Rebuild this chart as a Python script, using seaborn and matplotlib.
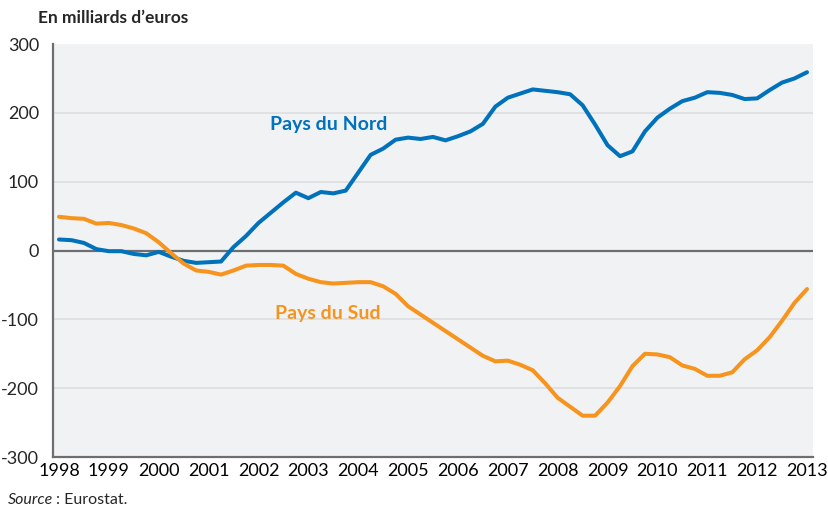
import numpy as np
import pandas as pd
import matplotlib
matplotlib.use("Agg")
from matplotlib import pyplot as plt
import seaborn as sns

# trimestres de 1998T1 à 2013T1
annees = list(range(1998, 2014))
nord = [16, 15, 11, 2, -1, -1, -5, -7, -2, -9, -15, -18, -17, -16, 5, 21,
        40, 55, 70, 84, 76, 85, 83, 87, 113, 139, 148, 161, 164, 162, 165, 160,
        166, 173, 184, 209, 222, 228, 234, 232, 230, 227, 211, 183, 153, 137, 144, 173,
        193, 206, 217, 222, 230, 229, 226, 220, 221, 233, 244, 250, 259]
sud = [49, 47, 46, 39, 40, 37, 32, 25, 12, -4, -19, -29, -31, -35, -29, -22,
       -21, -21, -22, -34, -41, -46, -48, -47, -46, -46, -52, -63, -81, -93, -105, -117,
       -129, -141, -153, -161, -160, -166, -174, -193, -214, -227, -240, -240, -221, -197, -168, -150,
       -151, -155, -167, -172, -182, -182, -177, -158, -145, -126, -102, -76, -56]

df = pd.DataFrame({
    "date": 1998 + np.arange(len(nord)) / 4,
    "Pays du Nord": nord,
    "Pays du Sud": sud,
}).melt(id_vars="date", var_name="zone", value_name="solde")

sns.set_style("white", {"axes.facecolor": "#F1F2F4"})
plt.rcParams["font.family"] = ["Lato", "DejaVu Sans"]

gris = "#6D6E71"
couleurs = {"Pays du Nord": "#0072BB", "Pays du Sud": "#F7941D"}

fig = plt.figure(figsize=(8.29, 5.11), dpi=100)
ax = fig.add_axes([53 / 829, 1 - 457 / 511, 760 / 829, 413 / 511])

# grille horizontale
for v in [-200, -100, 100, 200]:
    ax.axhline(v, color="#DCDDE0", lw=1.1, zorder=1)
ax.axhline(0, color=gris, lw=1.6, zorder=2)

sns.lineplot(data=df, x="date", y="solde", hue="zone", palette=couleurs,
             lw=2.9, legend=False, ax=ax, zorder=3)

ax.set_xlim(1997.88, 2013.12)
ax.set_ylim(-300, 300)
ax.set_xlabel("")
ax.set_ylabel("")

ax.set_xticks(annees)
ax.set_xticklabels([str(a) for a in annees], fontsize=13)
ax.set_xticks([a + 0.89 for a in annees[:-1]], minor=True)
ax.tick_params(axis="x", which="major", length=0, pad=4, colors="black")
ax.tick_params(axis="x", which="minor", length=5, width=1.1, color=gris, direction="out")
ax.set_yticks([-300, -200, -100, 0, 100, 200, 300])
ax.set_yticklabels([str(v) for v in [-300, -200, -100, 0, 100, 200, 300]], fontsize=13)
ax.tick_params(axis="y", length=4, width=1.1, color=gris, direction="out", pad=6)

for s in ["top", "right"]:
    ax.spines[s].set_visible(False)
for s in ["left", "bottom"]:
    ax.spines[s].set_color(gris)
    ax.spines[s].set_linewidth(1.6)

ax.text(2003.41, 183, "Pays du Nord", color=couleurs["Pays du Nord"],
        fontsize=14, fontweight="bold", ha="center", va="center")
ax.text(2003.39, -91, "Pays du Sud", color=couleurs["Pays du Sud"],
        fontsize=14, fontweight="bold", ha="center", va="center")

fig.text(38 / 829, 1 - 18 / 511, "En milliards d\u2019euros", fontsize=12.5,
         fontweight="bold", ha="left", va="center")
t_src = fig.text(8 / 829, 1 - 500 / 511, "Source", fontsize=11.5, style="italic",
                 ha="left", va="center")
fig.canvas.draw()
bb = t_src.get_window_extent()
fig.text((bb.x1 + 3) / 829, 1 - 500 / 511, ": Eurostat.", fontsize=11.5,
         ha="left", va="center")

fig.savefig("out.png", dpi=100)
